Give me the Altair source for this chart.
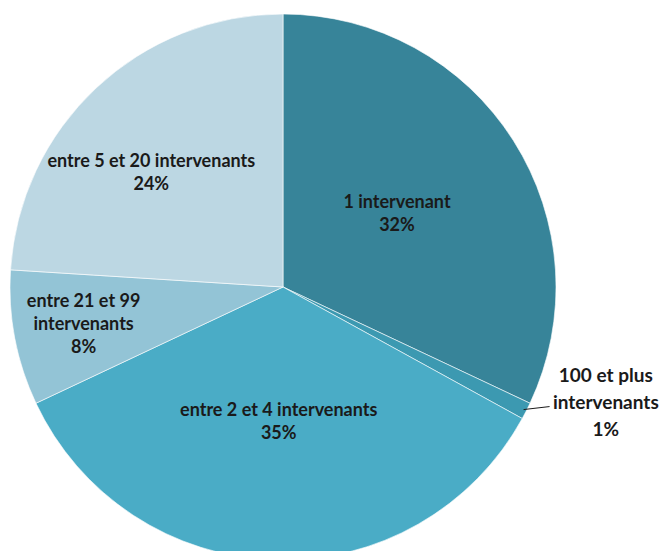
import altair as alt
import pandas as pd

categories = ["1 intervenant", "100 et plus intervenants", "entre 2 et 4 intervenants",
              "entre 21 et 99 intervenants", "entre 5 et 20 intervenants"]
label_lines = ["1 intervenant", "100 et plus|intervenants", "entre 2 et 4 intervenants",
               "entre 21 et 99|intervenants", "entre 5 et 20 intervenants"]
values = [32, 1, 35, 8, 24]

# styles
colors = ["#378499", "#3c99b1", "#4aacc6", "#93c4d6", "#bcd7e3"]
lab_r = [135, 343, 136, 203, 174]
lab_da = [0, -7.25, 0, 0, -6]
lab_lh = [23, 27, 23, 23, 23]

CX, CY, R = 275, 279, 273

df = pd.DataFrame({
    "cat": categories, "lab": label_lines, "v": values, "idx": list(range(len(values))),
    "lr": lab_r, "lda": lab_da, "lh": lab_lh,
})

base = alt.Chart(df)

arcs = base.mark_arc(stroke="white", strokeWidth=1, strokeOpacity=0.6).encode(
    theta=alt.Theta("v:Q", stack=True),
    order=alt.Order("idx:Q"),
    color=alt.Color("cat:N", scale=alt.Scale(domain=categories, range=colors), legend=None),
    x=alt.value(CX), y=alt.value(CY),
    radius=alt.value(R),
)

lab = base.transform_window(
    cum="sum(v)", sort=[alt.SortField("idx")], frame=[None, 0]
).transform_joinaggregate(tot="sum(v)").transform_calculate(
    mid="(datum.cum - datum.v/2)/datum.tot*2*PI + datum.lda*PI/180",
    mid0="(datum.cum - datum.v/2)/datum.tot*2*PI",
    txt="split(datum.lab + '|' + datum.v + '%', '|')",
).transform_calculate(
    lx=f"{CX} + datum.lr*sin(datum.mid)",
    ly=f"{CY} - datum.lr*cos(datum.mid) - (length(datum.txt) - 1)*datum.lh/2",
    ex=f"{CX} + {R - 3}*sin(datum.mid0)",
    ey=f"{CY} - {R - 3}*cos(datum.mid0)",
)

small = lab.transform_filter("datum.v >= 5").mark_text(
    font="Lato", fontWeight="bold", fontSize=18, lineHeight=23, color="#1a1a1a",
    align="center", baseline="middle",
).encode(x=alt.X("lx:Q", scale=None), y=alt.Y("ly:Q", scale=None), text=alt.Text("txt:N"))

big = lab.transform_filter("datum.v < 5").mark_text(
    font="Lato", fontWeight="bold", fontSize=19, lineHeight=27, color="#1a1a1a",
    align="center", baseline="middle",
).encode(x=alt.X("lx:Q", scale=None), y=alt.Y("ly:Q", scale=None), text=alt.Text("txt:N"))

leader = lab.transform_filter("datum.v < 5").transform_calculate(
    ex2="datum.ex + 26", ey2="datum.ey - 3"
).mark_rule(color="#1a1a1a", strokeWidth=1).encode(
    x=alt.X("ex:Q", scale=None), y=alt.Y("ey:Q", scale=None),
    x2="ex2:Q", y2="ey2:Q",
)

chart = alt.layer(arcs, leader, small, big).properties(
    width=654, height=543, padding=0, autosize="none"
).configure_view(stroke=None)

chart.save("out.html", embed_options={"renderer": "svg", "actions": False})
